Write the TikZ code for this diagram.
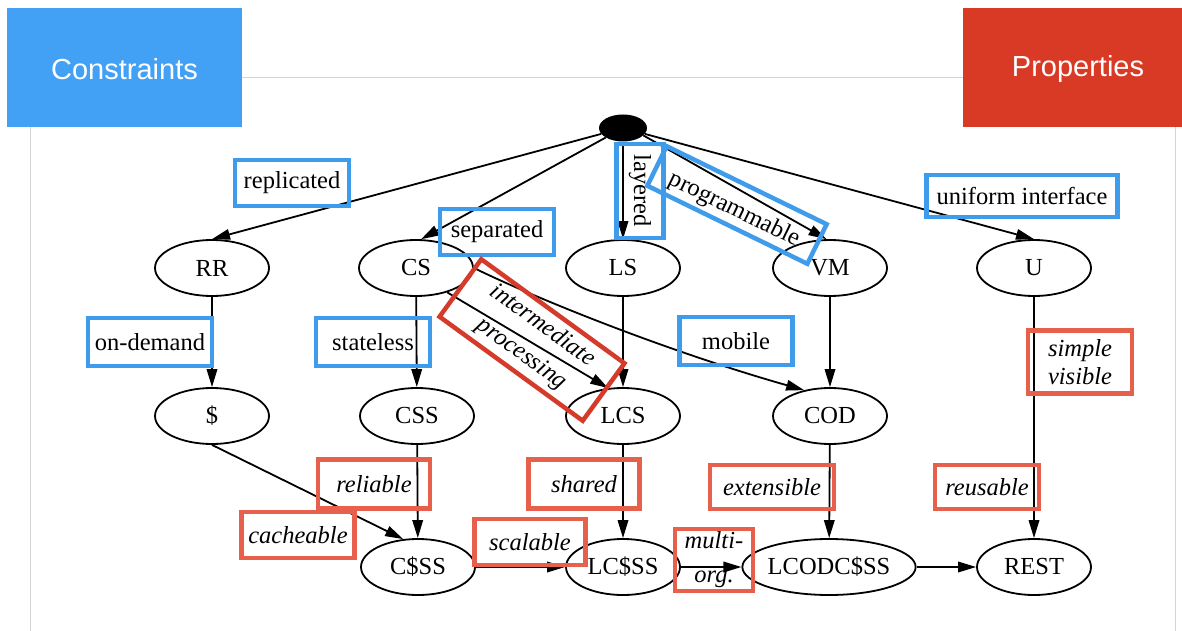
\documentclass[tikz,border=0pt]{standalone}
\usepackage{fontspec}
\setmainfont{Liberation Serif}
\newfontfamily\headfont{Liberation Sans}
\usetikzlibrary{arrows.meta,shapes.geometric}

\definecolor{consblue}{HTML}{42A0F5}
\definecolor{propred}{HTML}{D93A26}
\definecolor{boxblue}{HTML}{3F9CEB}
\definecolor{boxsalmon}{HTML}{E6604B}
\definecolor{boxred}{HTML}{D43B2A}
\definecolor{framegray}{HTML}{D4D4D4}

\begin{document}
\begin{tikzpicture}[x=1pt,y=-1pt,
  every node/.style={font=\fontsize{24.5}{28}\selectfont},
  state/.style={ellipse, draw, line width=1.8pt, minimum width=114pt,
    minimum height=56pt, inner sep=0pt},
  edge/.style={line width=1.8pt, -{Triangle[length=18pt,width=10.5pt]}},
  cbox/.style={draw=boxblue, line width=4.5pt, inner sep=0pt, align=center},
  pbox/.style={draw=boxsalmon, line width=4.5pt, inner sep=0pt, align=center,
    font=\fontsize{24.5}{28}\selectfont\itshape},
  head/.style={inner sep=0pt, text=white,
    font=\headfont\fontsize{29}{34}\selectfont},
  frame/.style={draw=framegray, line width=1pt}
]
\useasboundingbox (0,0) rectangle (1182,631);

% slide frame and headers
\draw[frame] (242,78) -- (963,78);
\draw[frame] (30,127) -- (30,631);
\draw[frame] (1175,127) -- (1175,631);
\node[head, fill=consblue, minimum width=235pt, minimum height=119pt]
  (cons) at (124.5,67.5) {};
\node[head] (tcons) at (124.5,69) {Constraints};
\node[head, fill=propred, minimum width=219pt, minimum height=119pt]
  (props) at (1072.5,67.5) {};
\node[head] (tprops) at (1078,69) {Properties};

% states
\node[ellipse, fill=black, minimum width=48pt, minimum height=27pt, inner sep=0pt]
  (top) at (623,128) {};
\node[state] (RR)   at (212,268) {RR};
\node[state] (CS)   at (416,268) {CS};
\node[state] (LS)   at (623,268) {LS};
\node[state] (VM)   at (830,268) {VM};
\node[state] (U)    at (1034,268) {U};
\node[state] (D)    at (212,416) {\$};
\node[state] (CSS)  at (417,416) {CSS};
\node[state] (LCS)  at (623,416) {LCS};
\node[state] (COD)  at (830,416) {COD};
\node[state] (CSSS) at (418,567) {C\$SS};
\node[state] (LCSSS) at (623,567) {LC\$SS};
\node[state, minimum width=162pt] (LCOD) at (829,567) {LCODC\$SS};
\node[state] (REST) at (1034,567) {REST};

% derivation edges
\draw[edge] (top) -- (RR.north);
\draw[edge] (top) -- (CS.80);
\draw[edge] (top) -- (LS);
\draw[edge] (top.-20) -- (VM.97);
\draw[edge] (top) -- (U.north);
\draw[edge] (RR) -- (D);
\draw[edge] (CS) -- (CSS);
\draw[edge] (CS.-38) -- (LCS.118);
\draw[edge] (CS.east) .. controls (550,305) and (680,355) .. (COD.135);
\draw[edge] (LS) -- (LCS);
\draw[edge] (VM) -- (COD);
\draw[edge] (U) -- (REST);
\draw[edge] (D.south) -- (CSSS.118);
\draw[edge] (CSS) -- (CSSS);
\draw[edge] (LCS) -- (LCSSS);
\draw[edge] (COD) -- (LCOD);
\draw[edge] (CSSS) -- (LCSSS);
\draw[edge] (LCSSS) -- (LCOD);
\draw[edge] (LCOD) -- (REST);

% constraint labels
\node[cbox, minimum width=114pt, minimum height=46pt] (lrep) at (292,183) {replicated};
\node[cbox, minimum width=114pt, minimum height=46pt] (lsep) at (497,232) {separated};
\node[cbox, rotate=-90, minimum width=94pt, minimum height=47pt] (llay) at (640,191) {layered};
\node[cbox, rotate=-26, minimum width=178pt, minimum height=44pt] (lprog) at (737,205) {};
\node[rotate=-26, inner sep=0pt] (tprog) at (734,210) {programmable};
\node[cbox, minimum width=191pt, minimum height=42pt] (luni) at (1022,196) {uniform interface};
\node[cbox, minimum width=124pt, minimum height=48pt] (lond) at (150,342) {on-demand};
\node[cbox, minimum width=114pt, minimum height=48pt] (lstat) at (373,342) {stateless};
\node[cbox, minimum width=113pt, minimum height=48pt] (lmob) at (736,341) {mobile};

% property labels
\node[pbox, draw=boxred, rotate=-36, minimum width=177pt, minimum height=71pt,
  font=\fontsize{24.5}{35}\selectfont\itshape] (linter) at (532,340) {intermediate\\processing};
\node[pbox, minimum width=104pt, minimum height=63pt] (lsimp) at (1080,362) {simple\\visible};
\node[pbox, minimum width=104pt, minimum height=44pt] (lreus) at (987,487) {reusable};
\node[pbox, minimum width=113pt, minimum height=46pt] (lcache) at (298,535) {cacheable};
\node[pbox, minimum width=112pt, minimum height=49pt] (lrel) at (374,484) {reliable};
\node[pbox, minimum width=111pt, minimum height=49pt] (lshar) at (584,484) {shared};
\node[pbox, minimum width=124pt, minimum height=44pt] (lext) at (772,487) {extensible};
\node[pbox, minimum width=111pt, minimum height=46pt] (lscal) at (530,542) {scalable};
\node[pbox, minimum width=78pt, minimum height=62pt,
  font=\fontsize{24.5}{34}\selectfont\itshape] (lmulti) at (714,560) {multi-\\org.};
\end{tikzpicture}
\end{document}
